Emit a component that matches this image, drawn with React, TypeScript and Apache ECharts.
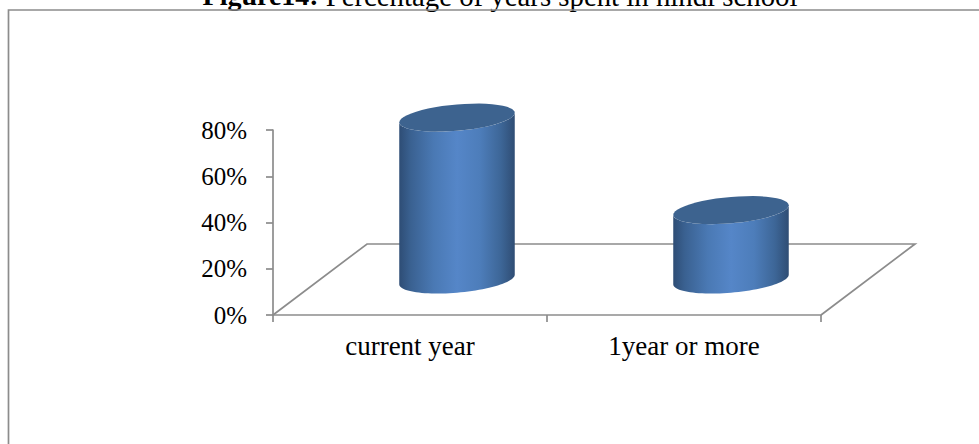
import React, { useEffect, useRef } from "react";
import * as echarts from "echarts";

const categories = ["current year", "1year or more"];
const values = [70, 30];
const yTicks = [0, 20, 40, 60, 80];
const titleBold = "Figure14:";
const titleRest = "Percentage of years spent in hindi school";

const AXIS = "#8c8c8c";
const LINE = 1.7;
const DEPTH_X = 47;
const DEPTH_Y = -35.5;

function ring(cx: number, cy: number, a: number, b: number, s: number, from: number, to: number) {
  const pts: number[][] = [];
  const n = 48;
  for (let i = 0; i <= n; i++) {
    const t = from + ((to - from) * i) / n;
    pts.push([cx + a * Math.cos(t), cy - s * Math.cos(t) + b * Math.sin(t)]);
  }
  return pts;
}

export default function App() {
  const ref = useRef<HTMLDivElement>(null);
  useEffect(() => {
    const chart = echarts.init(ref.current!, null, { renderer: "svg" });
    chart.setOption({
      animation: false,
      backgroundColor: "#fff",
      grid: { left: 273, right: 158, top: 130, bottom: 129 },
      xAxis: {
        type: "category",
        data: categories,
        axisLine: { lineStyle: { color: AXIS, width: LINE } },
        axisTick: { show: true, length: 7, lineStyle: { color: AXIS, width: LINE } },
        axisLabel: { color: "#000", fontFamily: "Liberation Serif", fontSize: 27, margin: 17 },
      },
      yAxis: {
        type: "value",
        min: yTicks[0],
        max: yTicks[yTicks.length - 1],
        interval: 20,
        axisLine: { show: true, lineStyle: { color: AXIS, width: LINE } },
        axisTick: { show: true, length: 7, lineStyle: { color: AXIS, width: LINE } },
        splitLine: { show: false },
        axisLabel: { color: "#000", fontFamily: "Liberation Serif", fontSize: 25, margin: 26, formatter: "{value}%" },
      },
      graphic: [
        {
          type: "text",
          x: 500,
          y: -19,
          z: 1,
          style: {
            text: `{b|${titleBold}} {n|${titleRest}}`,
            align: "center",
            fontSize: 28,
            fontFamily: "Liberation Serif",
            rich: {
              b: { fontSize: 28, fontWeight: "bold", fontFamily: "Liberation Serif", fill: "#000" },
              n: { fontSize: 28.8, fontFamily: "Liberation Serif", fill: "#000" },
            },
          },
        },
        {
          type: "polyline",
          z: 2,
          shape: { points: [[8.5, 444], [8.5, 10], [979, 10]] },
          style: { fill: "none", stroke: AXIS, lineWidth: LINE },
        },
      ],
      series: [
        {
          type: "custom",
          coordinateSystem: "cartesian2d",
          z: 1,
          data: [[0, 0]],
          renderItem: (_: any, api: any) => {
            const p = api.coord([0, 0]);
            const band = api.size([1, 0])[0];
            const l = p[0] - band / 2;
            const r = l + band * 2;
            const y = p[1];
            const dx = DEPTH_X * 2;
            const dy = DEPTH_Y * 2;
            return {
              type: "polyline",
              shape: { points: [[l, y], [l + dx, y + dy], [r + dx, y + dy], [r, y]] },
              style: { fill: "none", stroke: AXIS, lineWidth: LINE },
            };
          },
        },
        {
          type: "custom",
          coordinateSystem: "cartesian2d",
          z: 2,
          data: values.map((v, i) => [i, v]),
          encode: { x: 0, y: 1 },
          renderItem: (_: any, api: any) => {
            const base = api.coord([api.value(0), 0]);
            const top = api.coord([api.value(0), api.value(1)]);
            const cx = base[0] + DEPTH_X;
            const yb = base[1] + DEPTH_Y;
            const yt = top[1] + DEPTH_Y;
            const a = 57.75;
            const b = 13.2;
            const s = 4.8;
            return {
              type: "group",
              children: [
                {
                  type: "polygon",
                  shape: {
                    points: [
                      ...ring(cx, yb, a, b, s, Math.PI, 0),
                      ...ring(cx, yt, a, b, s, 0, Math.PI),
                    ],
                  },
                  style: {
                    fill: new echarts.graphic.LinearGradient(0, 0, 1, 0, [
                      { offset: 0, color: "#2e4d75" },
                      { offset: 0.1, color: "#3a6191" },
                      { offset: 0.3, color: "#4a79b4" },
                      { offset: 0.5, color: "#5586c8" },
                      { offset: 0.7, color: "#4d7dba" },
                      { offset: 0.88, color: "#3d6697" },
                      { offset: 1, color: "#2f4d74" },
                    ]),
                  },
                },
                {
                  type: "polygon",
                  shape: { points: ring(cx, yt, a, b, s, 0, 2 * Math.PI) },
                  style: { fill: "#3d638f" },
                },
              ],
            };
          },
        },
      ],
    });
    return () => chart.dispose();
  }, []);
  return <div ref={ref} style={{ position: "absolute", left: 0, top: 0, width: 979, height: 444 }} />;
}
